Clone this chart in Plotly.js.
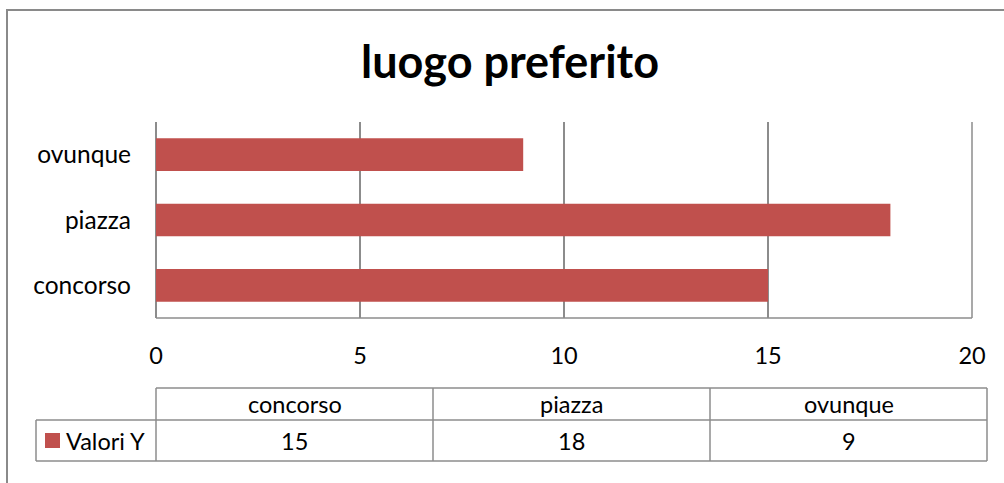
<!DOCTYPE html>
<html>
<head>
<meta charset="utf-8">
<script src="https://cdn.plot.ly/plotly-3.0.1.min.js"></script>
<style>html,body{margin:0;padding:0;background:#fff;}#chart{width:1004px;height:483px;}</style>
</head>
<body>
<div id="chart"></div>
<script>
const categories = ["concorso", "piazza", "ovunque"];
const values = [15, 18, 9];
const seriesName = "Valori Y";
const xTicks = [0, 5, 10, 15, 20];
const chartTitle = "luogo preferito";

const W = 1004, H = 483;
const L = 156, R = 972, T = 122, B = 318;
const px = x => (x - L) / (R - L);
const py = y => (B - y) / (B - T);
const FONT = "Lato, 'Noto Sans', sans-serif";
const FS = 23.5;
const GRID = "#8c8c8c";
const BAR = "#c0504d";

const shapes = [];
const annotations = [];
// outer chart border
shapes.push({type:"rect", xref:"paper", yref:"paper", x0:px(7), x1:px(1012), y0:py(10), y1:py(495), line:{color:"#8a8a8a", width:2}, fillcolor:"rgba(0,0,0,0)", layer:"below"});
// bottom axis line and right edge gridline
shapes.push({type:"line", xref:"paper", yref:"paper", x0:0, x1:1, y0:0, y1:0, line:{color:GRID, width:1.5}});
shapes.push({type:"line", xref:"paper", yref:"paper", x0:1, x1:1, y0:0, y1:1, line:{color:GRID, width:1.5}});

// data table
const tL = 156, tR = 987, legL = 36, rowTop = 388, rowMid = 420, rowBot = 461;
const colW = (tR - tL) / categories.length;
const ln = (x0,y0,x1,y1) => shapes.push({type:"line", xref:"paper", yref:"paper", x0:px(x0), x1:px(x1), y0:py(y0), y1:py(y1), line:{color:"#8c8c8c", width:1.5}});
ln(tL, rowTop, tR, rowTop);
ln(legL, rowMid, tR, rowMid);
ln(legL, rowBot, tR, rowBot);
ln(legL, rowMid, legL, rowBot);
for (let i = 0; i <= categories.length; i++) {
  const x = tL + i * colW;
  ln(x, rowTop, x, rowBot);
}
categories.forEach((c, i) => {
  const cx = tL + (i + 0.5) * colW;
  annotations.push({xref:"paper", yref:"paper", x:px(cx), y:py((rowTop+rowMid)/2), text:c, showarrow:false, font:{family:FONT, size:FS, color:"#000"}, xanchor:"center", yanchor:"middle"});
  annotations.push({xref:"paper", yref:"paper", x:px(cx), y:py((rowMid+rowBot)/2), text:String(values[i]), showarrow:false, font:{family:FONT, size:FS, color:"#000"}, xanchor:"center", yanchor:"middle"});
});
// legend key
shapes.push({type:"rect", xref:"paper", yref:"paper", x0:px(45), x1:px(60), y0:py(433), y1:py(448), fillcolor:BAR, line:{width:0}});
annotations.push({xref:"paper", yref:"paper", x:px(64), y:py((rowMid+rowBot)/2), text:seriesName, showarrow:false, font:{family:FONT, size:FS, color:"#000"}, xanchor:"left", yanchor:"middle"});

const trace = {
  type:"bar", orientation:"h",
  y: categories, x: values,
  marker:{color:BAR, line:{width:0}},
  name: seriesName, hoverinfo:"x+y"
};

const layout = {
  width: W, height: H,
  margin:{l:L, r:W-R, t:T, b:H-B, pad:0},
  paper_bgcolor:"#fff", plot_bgcolor:"#fff",
  showlegend:false,
  bargap:0.5,
  title:{text:"<b>"+chartTitle+"</b>", font:{family:FONT, size:45, color:"#000"}, x:0.508, xanchor:"center", y:1-62/H, yanchor:"middle"},
  xaxis:{range:[0,20], tickvals:xTicks, ticktext:xTicks.map(String), showgrid:true, gridcolor:GRID, gridwidth:1.5, zeroline:true, zerolinecolor:GRID, zerolinewidth:1.5, showline:false, ticks:"", ticklabelstandoff:21, tickfont:{family:FONT, size:FS, color:"#000"}, fixedrange:true},
  yaxis:{categoryorder:"array", categoryarray:categories, showgrid:false, zeroline:false, showline:false, ticks:"", ticklabelstandoff:24, tickfont:{family:FONT, size:24.5, color:"#000"}, fixedrange:true},
  shapes: shapes,
  annotations: annotations
};

Plotly.newPlot("chart", [trace], layout, {displayModeBar:false, staticPlot:true});
</script>
</body>
</html>
